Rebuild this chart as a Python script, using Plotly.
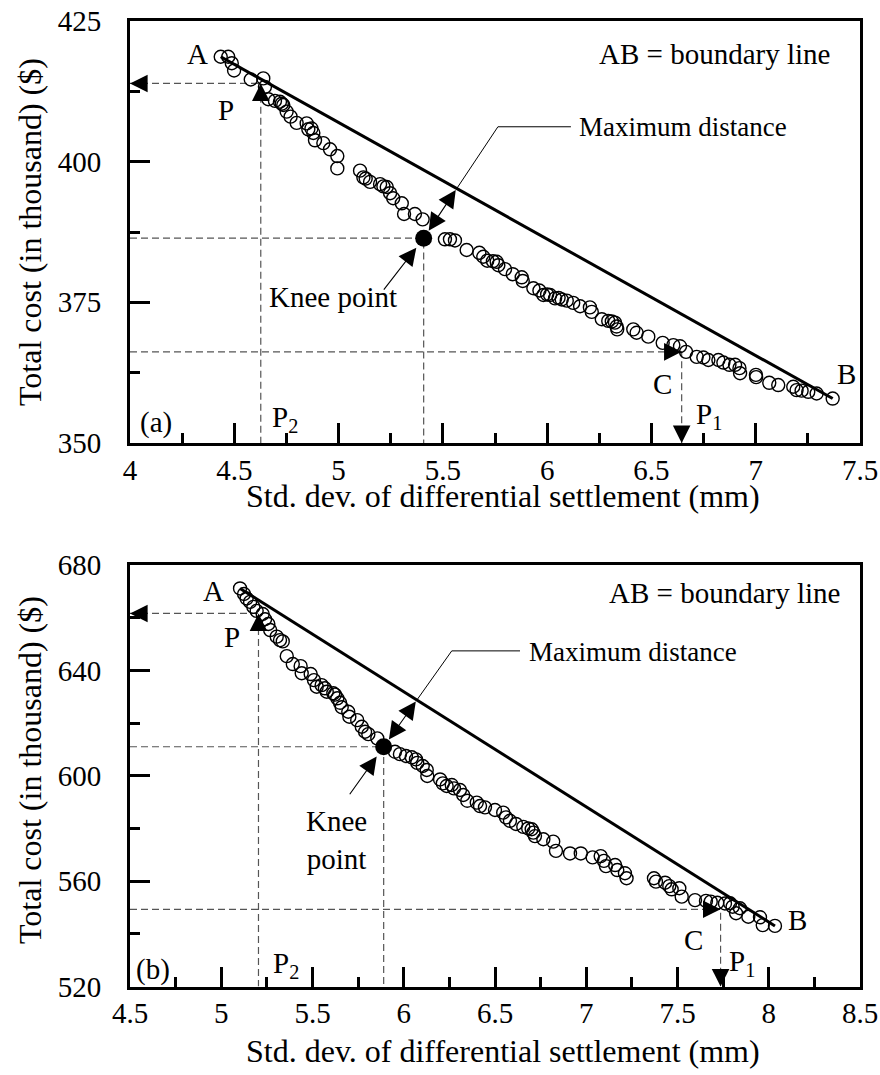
import plotly.graph_objects as go

# ---- Panel (a): Pareto front, total cost vs. std. dev. of differential settlement ----
settle_a = [4.435, 4.471, 4.488, 4.499, 4.579, 4.639, 4.647, 4.663, 4.695, 4.719, 4.728,
            4.735, 4.751, 4.770, 4.799, 4.847, 4.855, 4.870, 4.879, 4.887, 4.927, 4.959,
            4.994, 4.994, 5.103, 5.119, 5.130, 5.151, 5.199, 5.215, 5.231, 5.247, 5.262,
            5.303, 5.314, 5.366, 5.403, 5.510, 5.534, 5.558, 5.614, 5.675, 5.694, 5.713,
            5.740, 5.758, 5.766, 5.798, 5.835, 5.878, 5.883, 5.934, 5.963, 5.982, 6.000,
            6.014, 6.038, 6.055, 6.070, 6.094, 6.125, 6.158, 6.205, 6.214, 6.262, 6.293,
            6.310, 6.325, 6.333, 6.336, 6.413, 6.429, 6.485, 6.554, 6.605, 6.637, 6.666,
            6.717, 6.749, 6.773, 6.821, 6.845, 6.874, 6.901, 6.922, 6.925, 7.001, 7.002,
            7.065, 7.108, 7.180, 7.196, 7.220, 7.252, 7.292, 7.369]
cost_a = [418.65, 418.65, 417.5, 416.2, 414.6, 414.8, 413.3, 411.1, 410.8, 410.65, 410.3,
          410.07, 408.9, 408.0, 406.9, 406.8, 405.75, 405.9, 405.1, 403.8, 403.3, 402.2,
          401.0, 398.8, 398.4, 397.2, 397.0, 396.4, 396.0, 395.6, 395.5, 394.4, 393.5,
          392.6, 390.7, 390.7, 389.75, 386.2, 386.2, 386.0, 384.3, 383.8, 383.1, 382.4,
          382.3, 382.2, 381.6, 380.9, 380.0, 379.45, 378.8, 377.5, 377.1, 376.3, 376.4,
          376.3, 375.7, 375.8, 375.5, 375.3, 374.9, 374.3, 374.1, 373.3, 372.0, 371.7,
          371.6, 371.4, 370.7, 370.2, 370.2, 369.6, 368.9, 367.8, 367.4, 367.2, 366.2,
          365.3, 365.2, 364.75, 364.75, 364.3, 363.9, 363.9, 363.3, 362.4, 362.1, 361.7,
          360.7, 360.3, 360.0, 359.4, 359.3, 359.1, 358.8, 357.9]
knee_a = (5.408, 386.4)
p_a = (4.627, 413.9)   # P  -> (P2, C2)
c_a = (6.645, 366.2)   # C  -> (P1, C1)

# ---- Panel (b) ----
settle_b = [5.103, 5.125, 5.139, 5.158, 5.176, 5.194, 5.227, 5.240, 5.258, 5.268, 5.304,
            5.322, 5.337, 5.359, 5.392, 5.435, 5.441, 5.490, 5.508, 5.523, 5.550, 5.568,
            5.578, 5.614, 5.623, 5.636, 5.651, 5.660, 5.696, 5.702, 5.745, 5.770, 5.788,
            5.806, 5.855, 5.952, 5.979, 6.012, 6.044, 6.067, 6.074, 6.104, 6.126, 6.129,
            6.199, 6.214, 6.235, 6.263, 6.275, 6.308, 6.326, 6.348, 6.400, 6.418, 6.445,
            6.500, 6.545, 6.560, 6.582, 6.615, 6.655, 6.682, 6.701, 6.710, 6.719, 6.765,
            6.819, 6.834, 6.911, 6.970, 7.035, 7.079, 7.097, 7.108, 7.158, 7.170, 7.212,
            7.221, 7.371, 7.382, 7.432, 7.455, 7.468, 7.510, 7.523, 7.596, 7.656, 7.682,
            7.718, 7.760, 7.788, 7.802, 7.821, 7.842, 7.888, 7.952, 7.967, 8.034]
cost_b = [671.1, 669.0, 667.3, 666.0, 664.1, 662.6, 661.4, 659.4, 657.6, 655.3, 652.8,
          651.5, 651.0, 645.4, 642.4, 641.6, 638.9, 638.6, 636.3, 633.8, 634.4, 633.2,
          631.9, 631.3, 630.8, 629.4, 627.7, 626.0, 624.3, 622.4, 621.1, 618.6, 616.7,
          615.8, 614.2, 609.1, 608.2, 607.5, 607.0, 606.2, 604.9, 603.7, 602.2, 599.9,
          598.6, 597.1, 596.1, 596.5, 595.2, 594.6, 592.7, 590.5, 589.8, 588.5, 588.0,
          587.0, 586.0, 584.2, 582.9, 581.7, 580.6, 580.0, 579.7, 578.4, 577.1, 575.9,
          575.0, 571.5, 570.5, 570.5, 569.0, 569.5, 567.7, 565.7, 566.1, 564.2, 563.0,
          561.1, 561.1, 559.8, 559.4, 558.1, 556.9, 557.3, 554.1, 552.8, 552.5, 552.2,
          551.8, 551.5, 551.6, 550.3, 547.8, 549.7, 546.5, 546.3, 543.3, 543.0]
knee_b = (5.89, 611.0)
p_b = (5.204, 661.6)
c_b = (7.736, 549.3)

# axis ranges
xrange_a, yrange_a = (4.0, 7.5), (350, 425)
xrange_b, yrange_b = (4.5, 8.5), (520, 680)

FONT = "Liberation Serif"
FS = 29
W, H = 880, 1075

fig = go.Figure()


def intersect(p1, p2, q1, q2):
    """Intersection of line p1-p2 with line q1-q2 (data space)."""
    (x1, y1), (x2, y2) = p1, p2
    (x3, y3), (x4, y4) = q1, q2
    d = (x1 - x2) * (y3 - y4) - (y1 - y2) * (x3 - x4)
    t = ((x1 - x3) * (y3 - y4) - (y1 - y3) * (x3 - x4)) / d
    return x1 + t * (x2 - x1), y1 + t * (y2 - y1)


HEAD = dict(arrowhead=2, arrowsize=3.2, arrowwidth=1.1, arrowcolor="black")


def arrow(xr, yr, x, y, ax, ay, standoff=0):
    fig.add_annotation(xref=xr, yref=yr, x=x, y=y, ax=ax, ay=ay, text="",
                       showarrow=True, standoff=standoff, **HEAD)


def label(xr, yr, x, y, txt, size=FS, **kw):
    fig.add_annotation(xref=xr, yref=yr, x=x, y=y, text=txt, showarrow=False,
                       font=dict(family=FONT, size=size, color="black"), **kw)


def draw_panel(xs, ys, knee, p, c, xr, yr, xrng, yrng, corner, text_left):
    x0, y0 = xrng[0], yrng[0]
    # dashed guide lines
    gx = [x0, p[0], p[0], None, x0, knee[0], knee[0], None, x0, c[0], c[0]]
    gy = [p[1], p[1], y0, None, knee[1], knee[1], y0, None, c[1], c[1], y0]
    fig.add_trace(go.Scatter(x=gx, y=gy, mode="lines", xaxis=xr, yaxis=yr,
                             line=dict(color="#555555", width=1.2, dash="7px,4px"),
                             hoverinfo="skip", showlegend=False))
    # boundary line AB
    fig.add_trace(go.Scatter(x=[xs[0], xs[-1]], y=[ys[0], ys[-1]], mode="lines",
                             xaxis=xr, yaxis=yr, line=dict(color="black", width=3),
                             showlegend=False))
    # Pareto front solutions
    fig.add_trace(go.Scatter(x=xs, y=ys, mode="markers", xaxis=xr, yaxis=yr,
                             marker=dict(symbol="circle-open", size=13, color="black",
                                         line=dict(width=1.4)),
                             showlegend=False))
    # knee point
    fig.add_trace(go.Scatter(x=[knee[0]], y=[knee[1]], mode="markers", xaxis=xr, yaxis=yr,
                             marker=dict(symbol="circle", size=17, color="black"),
                             showlegend=False))
    # leader for "Maximum distance"
    hit = intersect((xs[0], ys[0]), (xs[-1], ys[-1]), corner, knee)
    fig.add_trace(go.Scatter(x=[text_left, corner[0], hit[0]], y=[corner[1], corner[1], hit[1]],
                             mode="lines", xaxis=xr, yaxis=yr,
                             line=dict(color="black", width=1), showlegend=False))
    xa = "x" if xr == "x" else "x2"
    ya = "y" if yr == "y" else "y2"
    # double-headed arrow between knee and boundary line
    fig.add_annotation(xref=xa, yref=ya, axref=xa, ayref=ya, x=knee[0], y=knee[1],
                       ax=hit[0], ay=hit[1], text="", showarrow=True,
                       startarrowhead=2, arrowside="end+start", startarrowsize=3.2,
                       standoff=9, startstandoff=0, **HEAD)
    # arrowheads on the dashed guides
    arrow(xa, ya, x0, p[1], 14, 0)          # towards C2
    arrow(xa, ya, p[0], p[1], 0, 14)        # at P
    arrow(xa, ya, c[0], c[1], -14, 0)       # at C
    arrow(xa, ya, c[0], y0, 0, -14)         # towards P1
    return xa, ya


xa, ya = draw_panel(settle_a, cost_a, knee_a, p_a, c_a, "x", "y", xrange_a, yrange_a,
                    corner=(5.764, 406.2), text_left=6.114)
arrow(xa, ya, knee_a[0], knee_a[1], -41, 53, standoff=12)
label(xa, ya, 4.326, 419.1, "A")
label(xa, ya, 4.460, 409.2, "P")
label(xa, ya, 3.918, 415.0, "C<sub>2</sub>", xanchor="right")
label(xa, ya, 3.914, 366.0, "C<sub>1</sub>", xanchor="right")
label(xa, ya, 7.366, 419.1, "AB = boundary line", xanchor="right")
label(xa, ya, 6.143, 406.2, "Maximum distance", size=27, xanchor="left")
label(xa, ya, 4.973, 376.0, "Knee point")
label(xa, ya, 6.555, 360.5, "C")
label(xa, ya, 6.776, 354.8, "P<sub>1</sub>")
label(xa, ya, 4.743, 354.3, "P<sub>2</sub>")
label(xa, ya, 4.125, 353.7, "(a)")
label(xa, ya, 7.433, 362.3, "B")

xb, yb = draw_panel(settle_b, cost_b, knee_b, p_b, c_b, "x2", "y2", xrange_b, yrange_b,
                    corner=(6.263, 647.4), text_left=6.637)
arrow(xb, yb, knee_b[0], knee_b[1], -35, 49, standoff=12)
label(xb, yb, 4.960, 670.1, "A")
label(xb, yb, 5.059, 652.6, "P")
label(xb, yb, 4.418, 665.9, "C<sub>2</sub>", xanchor="right")
label(xb, yb, 4.456, 548.7, "C<sub>1</sub>", xanchor="right")
label(xb, yb, 8.401, 669.3, "AB = boundary line", xanchor="right")
label(xb, yb, 6.675, 646.9, "Maximum distance", size=27, xanchor="left")
label(xb, yb, 5.634, 575.6, "Knee<br>point")
label(xb, yb, 7.590, 537.7, "C")
label(xb, yb, 7.853, 528.9, "P<sub>1</sub>")
label(xb, yb, 5.355, 528.2, "P<sub>2</sub>")
label(xb, yb, 4.626, 526.6, "(b)")
label(xb, yb, 8.160, 545.2, "B")

# axis titles
XT = "Std. dev. of differential settlement (mm)"
YT = "Total cost (in thousand) ($)"
for yc in (1 - 232 / H, 1 - 770 / H):
    fig.add_annotation(xref="paper", yref="paper", x=30 / W, y=yc, text=YT, textangle=-90,
                       xanchor="center", yanchor="middle", showarrow=False,
                       font=dict(family=FONT, size=32, color="black"))
for yc in (1 - 496 / H, 1 - 1051 / H):
    fig.add_annotation(xref="paper", yref="paper", x=503 / W, y=yc, text=XT,
                       xanchor="center", yanchor="middle", showarrow=False,
                       font=dict(family=FONT, size=32, color="black"))

common = dict(showline=True, linewidth=3, linecolor="black", mirror=True,
              ticks="inside", ticklen=20, tickwidth=2.5, tickcolor="black",
              showgrid=False, zeroline=False, automargin=False,
              tickfont=dict(family=FONT, size=FS, color="black"))


def minor(step):
    return dict(dtick=step, ticks="inside", ticklen=10, tickwidth=2.5, tickcolor="black",
                showgrid=False)


dom_x = [130 / W, 860 / W]
fig.update_layout(
    template="none",
    width=W, height=H, margin=dict(l=0, r=0, t=0, b=0, pad=0),
    paper_bgcolor="white", plot_bgcolor="white", showlegend=False,
    font=dict(family=FONT, size=FS, color="black"),
    xaxis=dict(domain=dom_x, range=list(xrange_a), anchor="y", dtick=0.5, tick0=4,
               minor=minor(0.25), ticklabelstandoff=-1, **common),
    yaxis=dict(domain=[1 - 443 / H, 1 - 21 / H], range=list(yrange_a), anchor="x",
               dtick=25, tick0=350, minor=minor(12.5), ticklabelstandoff=20, **common),
    xaxis2=dict(domain=dom_x, range=list(xrange_b), anchor="y2", dtick=0.5, tick0=4.5,
                minor=minor(0.25), ticklabelstandoff=-1, **common),
    yaxis2=dict(domain=[1 - 986.5 / H, 1 - 565 / H], range=list(yrange_b), anchor="x2",
                dtick=40, tick0=520, minor=minor(20), ticklabelstandoff=20, **common),
)

fig.write_html("out.html")
